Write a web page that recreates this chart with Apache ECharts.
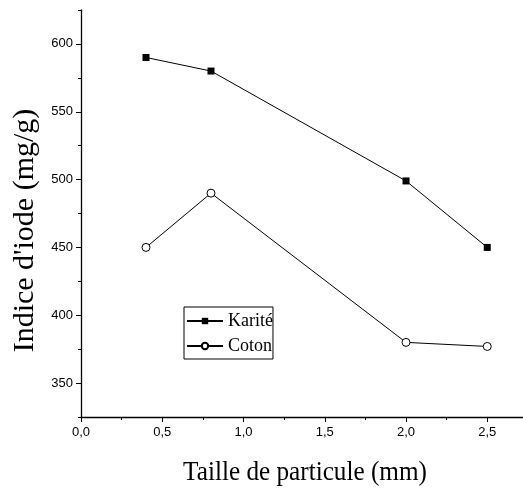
<!DOCTYPE html>
<html>
<head>
<meta charset="utf-8">
<script src="https://cdn.jsdelivr.net/npm/echarts@6/dist/echarts.min.js"></script>
<style>
  html, body { margin: 0; padding: 0; background: #fff; }
  #chart { width: 523px; height: 490px; }
</style>
</head>
<body>
<div id="chart"></div>
<script>
// Particle size (mm) for each measurement
const particleSizes = [0.4, 0.8, 2.0, 2.5];
// Iodine value (mg/g) per oil
const kariteValues = [590, 580, 499, 450];
const cotonValues = [450, 490, 380, 377];
const seriesNames = ['Karité', 'Coton'];

// Axis ticks
const yMajorTicks = [350, 400, 450, 500, 550, 600];
const yMinorTicks = [325, 375, 425, 475, 525, 575, 625];
const xMajorTicks = [0, 0.5, 1.0, 1.5, 2.0, 2.5];
const xMinorTicks = [0.25, 0.75, 1.25, 1.75, 2.25];

const xTitle = 'Taille de particule (mm)';
const yTitle = "Indice d'iode (mg/g)";

const pairs = (xs, ys) => xs.map((x, i) => [x, ys[i]]);
const commaFmt = v => v.toFixed(1).replace('.', ',');

const serif = '"Liberation Serif", "DejaVu Serif", serif';
const sans = '"Liberation Sans", Arial, sans-serif';

const chart = echarts.init(document.getElementById('chart'), null, { renderer: 'canvas' });

const axisLine = { show: true, lineStyle: { color: '#000', width: 1.3 } };

chart.setOption({
  animation: false,
  backgroundColor: '#fff',
  grid: { left: 81, top: 10, right: 0, bottom: 73, containLabel: false },
  legend: {
    left: 184, top: 307,
    orient: 'vertical',
    data: seriesNames,
    itemWidth: 36, itemHeight: 8, itemGap: 7,
    padding: [5, 0, 4, 2],
    borderColor: '#000', borderWidth: 1,
    textStyle: { fontFamily: serif, fontSize: 18, color: '#000', padding: [0, 0, 0, 0] }
  },
  // condensed serif title under the x axis
  graphic: [{
    type: 'text',
    x: 305, y: 473,
    originX: 0, originY: 0,
    scaleX: 0.9,
    style: {
      text: xTitle,
      font: '28px ' + serif,
      fill: '#000',
      align: 'center',
      verticalAlign: 'middle'
    }
  }],
  xAxis: [{
    type: 'value', min: 0, max: 2.72,
    axisLine: axisLine,
    axisTick: { show: true, inside: false, length: 5, customValues: xMajorTicks, lineStyle: { color: '#000' } },
    axisLabel: { show: true, customValues: xMajorTicks, formatter: commaFmt, fontFamily: sans, fontSize: 13, color: '#000', margin: 9 },
    splitLine: { show: false }
  }, {
    type: 'value', min: 0, max: 2.72, position: 'bottom',
    axisLine: { show: false },
    axisTick: { show: true, inside: false, length: 3, customValues: xMinorTicks, lineStyle: { color: '#000' } },
    axisLabel: { show: false },
    splitLine: { show: false }
  }],
  yAxis: [{
    type: 'value', min: 325, max: 625,
    name: yTitle, nameLocation: 'middle', nameGap: 37,
    nameTextStyle: { fontFamily: serif, fontSize: 30, color: '#000', padding: [0, 34, 0, 0] },
    axisLine: axisLine,
    axisTick: { show: true, inside: false, length: 5, customValues: yMajorTicks, lineStyle: { color: '#000' } },
    axisLabel: { show: true, customValues: yMajorTicks, fontFamily: sans, fontSize: 13, color: '#000', margin: 8 },
    splitLine: { show: false }
  }, {
    type: 'value', min: 325, max: 625, position: 'left',
    axisLine: { show: false },
    axisTick: { show: true, inside: false, length: 3, customValues: yMinorTicks, lineStyle: { color: '#000' } },
    axisLabel: { show: false },
    splitLine: { show: false }
  }],
  series: [{
    name: seriesNames[0], type: 'line',
    data: pairs(particleSizes, kariteValues),
    symbol: 'rect', symbolSize: 7,
    lineStyle: { color: '#000', width: 1 },
    itemStyle: { color: '#000', borderColor: '#000', borderWidth: 0 }
  }, {
    name: seriesNames[1], type: 'line',
    data: pairs(particleSizes, cotonValues),
    symbol: 'circle', symbolSize: 8,
    lineStyle: { color: '#000', width: 1 },
    itemStyle: { color: '#fff', borderColor: '#000', borderWidth: 1 }
  }]
});
</script>
</body>
</html>
